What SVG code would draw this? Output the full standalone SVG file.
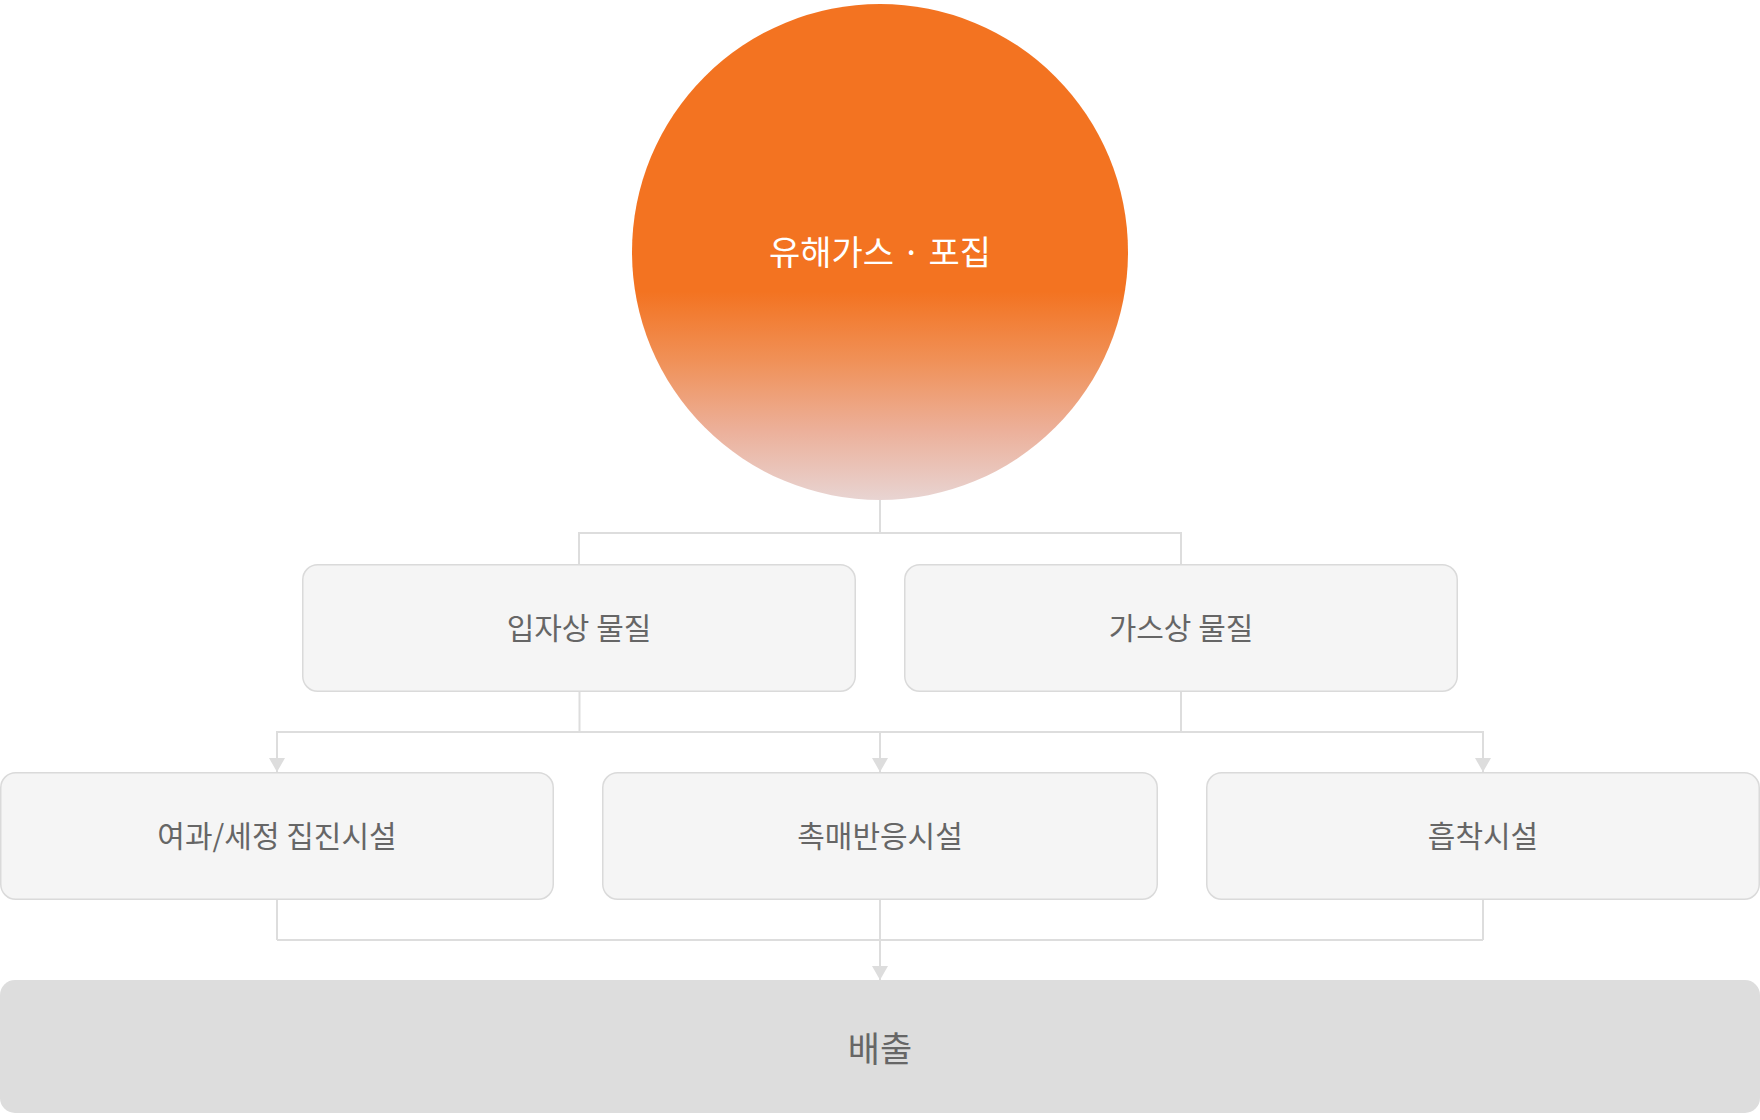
<svg xmlns="http://www.w3.org/2000/svg" width="1760" height="1120" viewBox="0 0 1760 1120">
<defs>
<linearGradient id="circGrad" x1="0" y1="0" x2="0" y2="1">
<stop offset="0" stop-color="#F37321"/>
<stop offset="0.58" stop-color="#F37321"/>
<stop offset="0.72" stop-color="#F09158"/>
<stop offset="0.86" stop-color="#ECB09A"/>
<stop offset="1" stop-color="#E8D4D2"/>
</linearGradient>
<marker id="arrow" viewBox="0 0 14 16" refX="14" refY="8" markerWidth="14" markerHeight="16" markerUnits="userSpaceOnUse" orient="auto">
<path d="M0,0 L14,8 L0,16 Z" fill="#DDDDDD"/>
</marker>
<style>
text { font-family: "Noto Sans CJK KR", "Noto Sans", sans-serif; text-anchor: middle; dominant-baseline: central; }
.box { fill: #F5F5F5; stroke: #DADADA; stroke-width: 1.5; }
.lbl { fill: #666666; font-size: 30px; }
.conn { fill: none; stroke: #DDDDDD; stroke-width: 2; }
</style>
</defs>
<rect width="1760" height="1120" fill="#FFFFFF"/>
<g id="connectors">
<path class="conn" d="M880,500 V533 M579,533 H1181 M579,532 V565 M1181,532 V565"/>
<path class="conn" d="M579.5,691 V732 M1181,691 V732 M277,732 H1483"/>
<path class="conn" d="M277,731 V772" marker-end="url(#arrow)"/>
<path class="conn" d="M880,731 V772" marker-end="url(#arrow)"/>
<path class="conn" d="M1483,731 V772" marker-end="url(#arrow)"/>
<path class="conn" d="M277,899 V940 M880,899 V940 M1483,899 V940 M277,940 H1483"/>
<path class="conn" d="M880,939 V980" marker-end="url(#arrow)"/>
</g>
<g id="node-capture">
<circle cx="880" cy="252" r="248" fill="url(#circGrad)"/>
<text x="880" y="250" fill="#FFFFFF" font-size="34">유해가스 · 포집</text>
</g>
<g id="node-particulate">
<rect class="box" x="302.75" y="564.75" width="552.5" height="126.5" rx="15"/>
<text class="lbl" x="579" y="626">입자상 물질</text>
</g>
<g id="node-gaseous">
<rect class="box" x="904.75" y="564.75" width="552.5" height="126.5" rx="15"/>
<text class="lbl" x="1181" y="626">가스상 물질</text>
</g>
<g id="node-filter">
<rect class="box" x="0.75" y="772.75" width="552.5" height="126.5" rx="15"/>
<text class="lbl" x="277" y="834">여과/세정 집진시설</text>
</g>
<g id="node-catalyst">
<rect class="box" x="602.75" y="772.75" width="554.5" height="126.5" rx="15"/>
<text class="lbl" x="880" y="834">촉매반응시설</text>
</g>
<g id="node-adsorption">
<rect class="box" x="1206.75" y="772.75" width="552.5" height="126.5" rx="15"/>
<text class="lbl" x="1483" y="834">흡착시설</text>
</g>
<g id="node-emission">
<rect x="0" y="980" width="1760" height="133" rx="15" fill="#DDDDDD"/>
<text x="880" y="1046" fill="#666666" font-size="35">배출</text>
</g>
</svg>
